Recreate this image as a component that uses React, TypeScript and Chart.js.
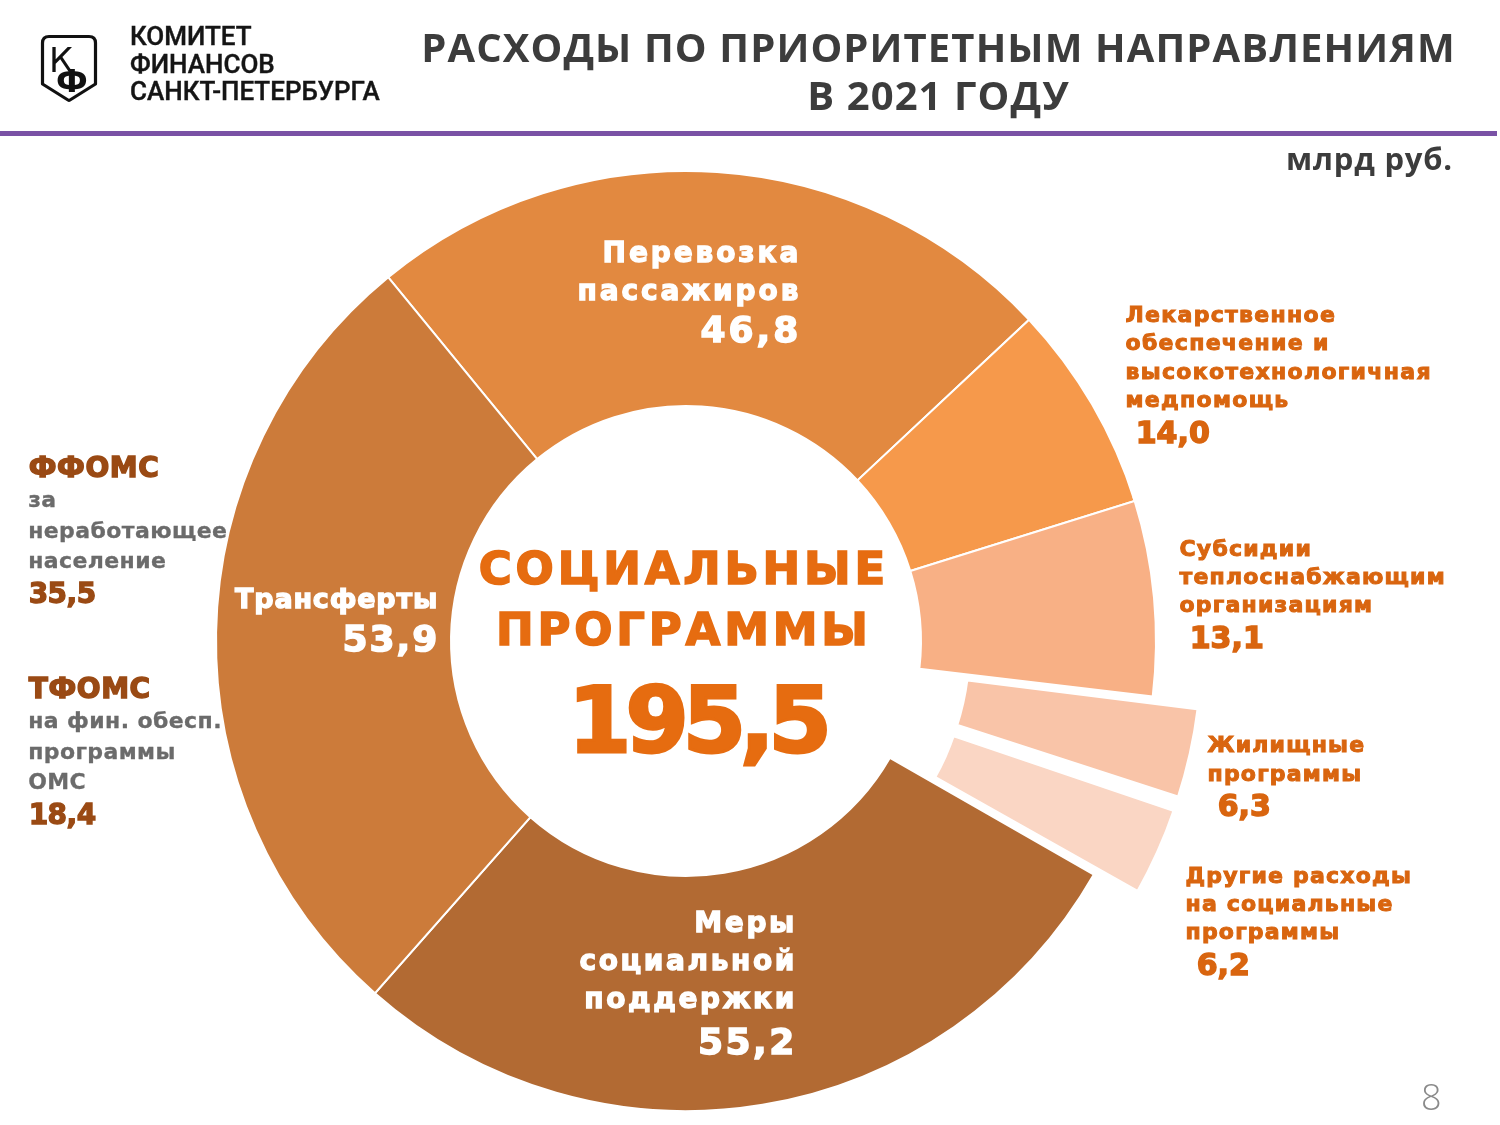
import React, { useEffect, useRef } from "react";
import { Chart, registerables } from "chart.js";

Chart.register(...registerables);

// ---------- data ----------
const categories = [
  "Перевозка пассажиров",
  "Лекарственное обеспечение и высокотехнологичная медпомощь",
  "Субсидии теплоснабжающим организациям",
  "Жилищные программы",
  "Другие расходы на социальные программы",
  "Меры социальной поддержки",
  "Трансферты",
];
const categoryLines = [
  ["Перевозка", "пассажиров"],
  ["Лекарственное", "обеспечение и", "высокотехнологичная", "медпомощь"],
  ["Субсидии", "теплоснабжающим", "организациям"],
  ["Жилищные", "программы"],
  ["Другие расходы", "на социальные", "программы"],
  ["Меры", "социальной", "поддержки"],
  ["Трансферты"],
];
const values = [46.8, 14.0, 13.1, 6.3, 6.2, 55.2, 53.9];
const exploded = [false, false, false, true, true, false, false];
const sliceColors = ["#E28940", "#F6994B", "#F8B085", "#F9C4A8", "#FAD6C4", "#B26A33", "#CC7B3A"];

const centerTitle = ["СОЦИАЛЬНЫЕ", "ПРОГРАММЫ"];
const centerTotal = 195.5;

const transferNames = ["ФФОМС", "ТФОМС"];
const transferDescs = [
  ["за", "неработающее", "население"],
  ["на фин. обесп.", "программы", "ОМС"],
];
const transferValues = [35.5, 18.4];

const titleLines = ["РАСХОДЫ ПО ПРИОРИТЕТНЫМ НАПРАВЛЕНИЯМ", "В 2021 ГОДУ"];
const orgLines = ["КОМИТЕТ", "ФИНАНСОВ", "САНКТ-ПЕТЕРБУРГА"];
const unitLabel = "млрд руб.";
const pageNumber = "8";

const fmt = (v: number) => v.toFixed(1).replace(".", ",");

// ---------- layout (not data) ----------
const W = 1500;
const H = 1125;
const HEAVY = "'DejaVu Sans', sans-serif";
const ORANGE_TXT = "#D9650F";
const CENTER_ORANGE = "#E66C10";
const BROWN = "#9A4A14";
const GRAY = "#6B6B6B";

type Block = {
  x: number;
  align: "left" | "right";
  firstCy: number;
  pitch: number;
  size: number;
  ls: number;
  numX: number;
  numCy: number;
  numSize: number;
  numLs: number;
  color: string;
};

const blocks: Block[] = [
  { x: 799, align: "right", firstCy: 253, pitch: 38, size: 28, ls: 2.9, numX: 799, numCy: 330, numSize: 36, numLs: 3, color: "#ffffff" },
  { x: 1125, align: "left", firstCy: 315, pitch: 28.5, size: 22, ls: 1.3, numX: 1135, numCy: 433, numSize: 30, numLs: 0, color: ORANGE_TXT },
  { x: 1179, align: "left", firstCy: 549, pitch: 28.3, size: 22, ls: 1.2, numX: 1189, numCy: 638, numSize: 30, numLs: 0, color: ORANGE_TXT },
  { x: 1207, align: "left", firstCy: 745.5, pitch: 28.5, size: 22, ls: 1.2, numX: 1217, numCy: 806, numSize: 30, numLs: 0, color: ORANGE_TXT },
  { x: 1185, align: "left", firstCy: 876, pitch: 28.3, size: 22, ls: 1.2, numX: 1196, numCy: 965, numSize: 30, numLs: 0, color: ORANGE_TXT },
  { x: 795, align: "right", firstCy: 922.5, pitch: 38, size: 28, ls: 2.6, numX: 795, numCy: 1042, numSize: 36, numLs: 2.5, color: "#ffffff" },
  { x: 438, align: "right", firstCy: 598.5, pitch: 38, size: 27, ls: 0.8, numX: 438, numCy: 639, numSize: 36, numLs: 2, color: "#ffffff" },
];

function Line(props: {
  x: number;
  cy: number;
  h: number;
  align: "left" | "right" | "center";
  text: string;
  size: number;
  color: string;
  ls?: number;
  font?: string;
  weight?: number | string;
  stroke?: number;
}) {
  const { x, cy, h, align, text, size, color, ls = 0, font = HEAVY, weight = "bold", stroke = 0 } = props;
  const base: React.CSSProperties = {
    position: "absolute",
    top: cy - h / 2,
    height: h,
    lineHeight: h + "px",
    fontSize: size,
    fontFamily: font,
    fontWeight: weight as any,
    color,
    letterSpacing: ls,
    whiteSpace: "nowrap",
  };
  if (stroke > 0) (base as any).WebkitTextStroke = stroke + "px " + color;
  if (align === "left") return <div style={{ ...base, left: x + stroke / 2 }}>{text}</div>;
  if (align === "right") return <div style={{ ...base, right: W - x - ls + stroke / 2, textAlign: "right" }}>{text}</div>;
  return (
    <div style={{ ...base, left: x - 600, width: 1200, textAlign: "center", paddingLeft: ls, boxSizing: "border-box" }}>
      {text}
    </div>
  );
}

export default function App() {
  const canvasRef = useRef<HTMLCanvasElement | null>(null);

  useEffect(() => {
    const canvas = canvasRef.current;
    if (!canvas) return;
    const chart = new Chart(canvas, {
      type: "doughnut",
      data: {
        labels: categories,
        datasets: [
          {
            data: values,
            backgroundColor: sliceColors,
            borderColor: "#ffffff",
            borderWidth: exploded.map((e) => (e ? 5 : 2)),
            offset: exploded.map((e) => (e ? 106 : 0)),
            borderJoinStyle: "miter",
            clip: false,
          } as any,
        ],
      },
      options: {
        responsive: false,
        animation: false,
        events: [],
        rotation: -39.3,
        cutout: "50%",
        radius: 470,
        layout: { padding: { left: 0, right: 128, top: 157, bottom: 0 } },
        plugins: { legend: { display: false }, tooltip: { enabled: false } },
      } as any,
    });
    return () => chart.destroy();
  }, []);

  return (
    <div style={{ position: "absolute", left: 0, top: 0, width: W, height: H, overflow: "hidden", background: "#ffffff" }}>
      <canvas ref={canvasRef} width={W} height={H} style={{ position: "absolute", left: 0, top: 0, width: W, height: H }} />

      {/* logo */}
      <svg style={{ position: "absolute", left: 40, top: 34 }} width={60} height={70} viewBox="0 0 60 70">
        <path d="M2.5,9 Q2.5,2.5 9,2.5 L49,2.5 Q55.5,2.5 55.5,9 L55.5,50 L30,66 Q29,66.6 28,66 L2.5,50 Z" fill="#fff" stroke="#111" strokeWidth={3.2} strokeLinejoin="round" />
        <text x={9} y={38} fontSize={34} fontFamily="'DejaVu Sans', sans-serif" fill="#111">К</text>
        <text x={16} y={58} fontSize={32} fontWeight="bold" fontFamily="'DejaVu Sans', sans-serif" fill="#111">Ф</text>
      </svg>
      {orgLines.map((t, i) => (
        <div
          key={"o" + i}
          style={{
            position: "absolute",
            left: 130,
            top: 37 + i * 27.5 - 13.75,
            height: 27.5,
            lineHeight: "27.5px",
            fontFamily: "Roboto, sans-serif",
            fontWeight: 500,
            fontSize: 26,
            color: "#151515",
            WebkitTextStroke: "0.4px #151515",
            whiteSpace: "nowrap",
          } as any}
        >
          {t}
        </div>
      ))}

      {/* title */}
      {titleLines.map((t, i) => (
        <div
          key={"t" + i}
          style={{
            position: "absolute",
            left: 338,
            width: 1200,
            top: 22.5 + i * 48,
            height: 48,
            lineHeight: "48px",
            textAlign: "center",
            fontFamily: "'Open Sans', sans-serif",
            fontWeight: 700,
            fontSize: 40,
            letterSpacing: 1.1,
            paddingLeft: 1.1,
            boxSizing: "border-box",
            color: "#3C3C3C",
            whiteSpace: "nowrap",
          }}
        >
          {t}
        </div>
      ))}
      <div style={{ position: "absolute", left: 0, top: 131, width: 1497, height: 5, background: "#7A52A5" }} />
      <div
        style={{
          position: "absolute",
          right: W - 1453,
          top: 140,
          height: 36,
          lineHeight: "36px",
          fontFamily: "'Open Sans', sans-serif",
          fontWeight: 700,
          fontSize: 31,
          letterSpacing: 0.8,
          color: "#3C3C3C",
          whiteSpace: "nowrap",
        }}
      >
        {unitLabel}
      </div>

      {/* center */}
      {centerTitle.map((t, i) => (
        <Line key={"c" + i} x={682} cy={569 + i * 60.5} h={60} align="center" text={t} size={45} ls={3.8} color={CENTER_ORANGE} stroke={1.6} />
      ))}
      <Line x={697} cy={721} h={100} align="center" text={fmt(centerTotal)} size={91} ls={-6} color={CENTER_ORANGE} stroke={3} />

      {/* slice labels */}
      {blocks.map((b, i) => (
        <React.Fragment key={"b" + i}>
          {categoryLines[i].map((t, j) => (
            <Line key={j} x={b.x} cy={b.firstCy + j * b.pitch} h={b.pitch} align={b.align} text={t} size={b.size} ls={b.ls} color={b.color} stroke={b.size > 25 ? 1.3 : 1} />
          ))}
          <Line x={b.numX} cy={b.numCy} h={44} align={b.align} text={fmt(values[i])} size={b.numSize} ls={b.numLs} color={b.color} stroke={1.5} />
        </React.Fragment>
      ))}

      {/* transfers breakdown */}
      {transferNames.map((n, i) => {
        const top = i === 0 ? 468 : 689;
        return (
          <React.Fragment key={"f" + i}>
            <Line x={28} cy={top} h={32} align="left" text={n} size={28} ls={0.6} color={BROWN} stroke={1.4} />
            {transferDescs[i].map((d, j) => (
              <Line key={j} x={28} cy={top + 32 + j * 30.5} h={30} align="left" text={d} size={22} ls={0.4} color={GRAY} stroke={0.3} />
            ))}
            <Line x={28} cy={top + 126} h={34} align="left" text={fmt(transferValues[i])} size={28} ls={-0.5} color={BROWN} stroke={1.3} />
          </React.Fragment>
        );
      })}

      <div
        style={{
          position: "absolute",
          left: 1421,
          top: 1077,
          height: 40,
          lineHeight: "40px",
          fontFamily: "'Open Sans', sans-serif",
          fontWeight: 300,
          fontSize: 36,
          color: "#8A8A8A",
        }}
      >
        {pageNumber}
      </div>
    </div>
  );
}
